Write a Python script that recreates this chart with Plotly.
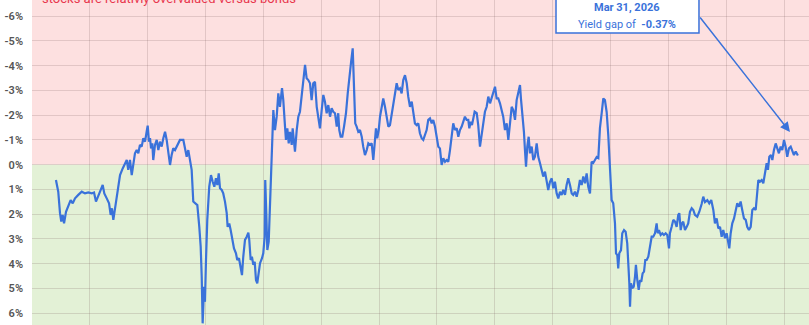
import plotly.graph_objects as go

# ---- data ----
years = [
    1962.07,1962.27,1962.42,1962.53,1962.65,1962.77,1962.94,1963.14,1963.34,1963.52,
    1963.72,1964.00,1964.30,1964.58,1964.87,1965.16,1965.36,1965.53,1965.73,1965.94,
    1966.11,1966.25,1966.46,1966.66,1966.80,1966.91,1967.03,1967.17,1967.32,1967.46,
    1967.61,1967.84,1968.04,1968.19,1968.32,1968.47,1968.62,1968.76,1968.90,1969.05,
    1969.19,1969.33,1969.48,1969.62,1969.77,1969.91,1970.00,1970.11,1970.20,1970.29,
    1970.40,1970.48,1970.63,1970.78,1970.92,1971.06,1971.21,1971.35,1971.50,1971.64,
    1971.78,1971.93,1972.07,1972.21,1972.36,1972.51,1972.79,1973.08,1973.22,1973.37,
    1973.51,1973.66,1973.80,1973.94,1974.09,1974.29,1974.46,1974.58,1974.67,1974.75,
    1974.87,1974.95,1975.04,1975.15,1975.32,1975.47,1975.62,1975.76,1975.90,1976.02,
    1976.14,1976.25,1976.40,1976.53,1976.68,1976.83,1976.91,1977.05,1977.17,1977.31,
    1977.46,1977.63,1977.74,1977.89,1978.04,1978.15,1978.26,1978.41,1978.56,1978.70,
    1978.78,1978.90,1979.01,1979.13,1979.25,1979.36,1979.47,1979.59,1979.71,1979.88,
    1979.99,1980.11,1980.16,1980.25,1980.34,1980.46,1980.57,1980.68,1980.86,1981.00,
    1981.15,1981.29,1981.43,1981.61,1981.72,1981.87,1981.95,1982.07,1982.19,1982.30,
    1982.45,1982.53,1982.65,1982.73,1982.88,1983.02,1983.16,1983.31,1983.45,1983.60,
    1983.74,1983.88,1984.03,1984.17,1984.31,1984.46,1984.61,1984.75,1984.89,1985.04,
    1985.18,1985.32,1985.47,1985.61,1985.76,1985.90,1986.04,1986.19,1986.34,1986.47,
    1986.56,1986.68,1986.82,1986.97,1987.14,1987.29,1987.42,1987.57,1987.72,1987.83,
    1987.94,1988.06,1988.20,1988.35,1988.50,1988.63,1988.78,1988.93,1989.07,1989.21,
    1989.36,1989.50,1989.65,1989.73,1989.84,1989.97,1990.08,1990.22,1990.36,1990.51,
    1990.66,1990.80,1990.94,1991.09,1991.23,1991.37,1991.52,1991.66,1991.81,1991.95,
    1992.09,1992.24,1992.39,1992.52,1992.67,1992.82,1992.96,1993.10,1993.25,1993.39,
    1993.53,1993.68,1993.82,1993.97,1994.11,1994.25,1994.40,1994.55,1994.68,1994.83,
    1994.98,1995.12,1995.26,1995.41,1995.55,1995.70,1995.84,1995.98,1996.13,1996.27,
    1996.41,1996.56,1996.71,1996.85,1996.99,1997.14,1997.28,1997.42,1997.57,1997.71,
    1997.80,1997.92,1998.03,1998.14,1998.26,1998.44,1998.57,1998.72,1998.87,1999.01,
    1999.15,1999.30,1999.44,1999.59,1999.73,1999.87,2000.02,2000.16,2000.30,2000.45,
    2000.60,2000.73,2000.88,2001.03,2001.17,2001.31,2001.46,2001.60,2001.75,2001.89,
    2002.03,2002.18,2002.26,2002.41,2002.52,2002.61,2002.70,2002.81,2002.93,2003.04,
    2003.19,2003.33,2003.47,2003.62,2003.76,2003.91,2004.05,2004.19,2004.34,2004.49,
    2004.62,2004.77,2004.92,2005.06,2005.20,2005.35,2005.49,2005.64,2005.78,2005.92,
    2006.07,2006.21,2006.35,2006.50,2006.65,2006.78,2006.93,2007.08,2007.22,2007.36,
    2007.51,2007.65,2007.80,2007.94,2008.08,2008.23,2008.37,2008.51,2008.66,2008.81,
    2008.95,2009.09,2009.24,2009.38,2009.52,2009.67,2009.81,2009.96,2010.10,2010.24,
    2010.39,2010.48,2010.59,2010.67,2010.76,2010.91,2011.02,2011.17,2011.31,2011.45,
    2011.54,2011.63,2011.69,2011.77,2011.88,2012.01,2012.12,2012.20,2012.32,2012.44,
    2012.55,2012.66,2012.78,2012.90,2013.01,2013.13,2013.27,2013.41,2013.56,2013.70,
    2013.85,2013.99,2014.08,2014.19,2014.34,2014.48,2014.62,2014.77,2014.91,2015.06,
    2015.14,2015.29,2015.43,2015.58,2015.72,2015.86,2015.95,2016.07,2016.18,2016.29,
    2016.44,2016.59,2016.72,2016.87,2017.02,2017.16,2017.30,2017.50,2017.68,2017.88,
    2018.02,2018.17,2018.37,2018.54,2018.71,2018.89,2019.03,2019.18,2019.32,2019.47,
    2019.61,2019.75,2019.90,2020.04,2020.18,2020.27,2020.39,2020.53,2020.68,2020.82,
    2020.96,2021.11,2021.25,2021.39,2021.54,2021.69,2021.82,2021.97,2022.12,2022.26,
    2022.40,2022.55,2022.69,2022.78,2022.92,2023.07,2023.21,2023.35,2023.50,2023.61,
    2023.73,2023.87,2023.99,2024.13,2024.28,2024.42,2024.56,2024.71,2024.85,2025.00,
    2025.14,2025.28,2025.43,2025.58,2025.71,2025.86,2026.01,2026.20,
]

yield_gap = [
    0.62,1.09,1.96,2.30,2.03,2.37,1.90,1.70,1.43,1.56,
    1.36,1.22,1.09,1.16,1.12,1.16,1.12,1.49,1.22,1.02,
    0.82,1.16,1.36,1.56,2.03,1.76,2.23,1.76,1.22,0.82,
    0.42,0.15,-0.06,-0.19,0.21,-0.19,0.42,-0.12,-0.46,-0.59,
    -0.46,-0.80,-0.73,-1.07,-0.93,-1.33,-1.58,-0.93,-1.07,-0.66,
    -0.86,-0.19,-0.80,-1.00,-0.59,-0.93,-0.73,-1.07,-1.33,-1.00,
    -0.53,0.01,-0.39,-0.66,-0.59,-0.73,-1.00,-1.00,-0.73,-0.32,
    -0.59,-0.06,0.21,1.49,1.56,1.63,2.51,3.31,4.53,6.41,
    4.93,5.54,3.85,2.23,0.89,0.42,0.69,0.89,0.55,0.82,
    0.35,0.95,1.02,1.16,1.49,1.96,2.51,2.37,2.64,3.04,
    3.38,3.58,3.85,3.78,4.19,4.46,3.72,3.04,2.91,2.75,
    3.04,3.85,3.72,4.05,3.92,4.66,4.79,4.39,3.98,3.78,
    3.58,2.91,0.62,1.96,3.45,3.11,1.56,0.08,-2.21,-1.40,
    -1.94,-2.88,-2.34,-3.09,-2.61,-1.54,-1.00,-1.47,-0.86,-1.33,
    -0.80,-1.47,-0.86,-0.53,-1.40,-1.94,-2.14,-2.88,-3.49,-4.03,
    -3.49,-3.42,-3.29,-2.61,-3.29,-3.35,-2.34,-1.81,-1.47,-2.21,
    -2.82,-2.55,-2.08,-2.41,-1.94,-2.28,-2.14,-2.08,-1.54,-2.08,
    -1.40,-1.13,-1.13,-1.54,-2.08,-2.88,-3.56,-4.10,-4.70,-3.42,
    -1.67,-1.54,-1.33,-1.40,-1.13,-0.73,-0.39,-0.59,-0.86,-0.80,
    -0.86,-0.19,-1.13,-1.47,-1.07,-1.40,-1.94,-2.34,-2.68,-2.34,
    -1.81,-1.54,-1.60,-2.08,-2.48,-2.88,-3.29,-3.02,-3.09,-2.88,
    -3.42,-3.62,-3.29,-2.75,-2.34,-2.55,-2.08,-1.67,-1.60,-1.67,
    -1.27,-1.07,-1.00,-1.20,-1.40,-1.81,-1.87,-1.67,-1.81,-1.54,
    -1.13,-0.73,-0.66,0.01,-0.26,-0.12,-0.19,-0.12,-0.59,-1.20,
    -1.67,-1.40,-1.47,-1.13,-1.40,-1.54,-1.74,-1.94,-1.81,-1.81,
    -1.47,-1.74,-1.60,-1.94,-2.14,-2.08,-1.60,-0.73,-1.20,-1.67,
    -2.14,-2.34,-2.75,-2.48,-2.68,-2.88,-3.15,-2.68,-2.68,-2.48,
    -2.21,-1.94,-1.40,-1.67,-1.00,-1.81,-2.34,-2.21,-1.81,-2.61,
    -2.88,-3.22,-2.68,-1.94,-1.33,-0.59,0.08,-0.73,-1.13,-0.46,
    -0.73,-0.19,-0.32,-0.86,-0.32,-0.06,0.21,0.48,0.28,0.75,
    1.02,0.69,0.55,0.95,0.69,1.16,1.36,1.09,1.22,1.02,
    1.22,0.82,0.55,0.82,1.16,1.22,1.09,1.29,1.02,0.62,
    0.82,0.48,0.75,0.35,0.89,1.16,-0.12,-0.07,-0.19,-0.31,
    -0.27,-1.48,-2.08,-2.68,-2.61,-2.13,-1.20,0.29,1.43,1.56,
    2.37,3.58,3.65,4.19,3.58,3.45,2.77,2.64,2.71,3.18,
    3.85,4.79,5.74,4.79,4.99,4.93,4.53,4.05,4.66,5.06,
    4.66,4.73,4.39,4.32,3.85,3.85,3.72,3.31,2.91,2.91,
    2.77,2.37,2.77,2.64,2.84,2.77,2.84,2.77,2.84,3.38,
    2.77,2.51,2.23,2.30,2.51,2.03,1.96,2.64,2.37,2.30,
    2.64,2.51,2.37,1.90,1.76,1.83,2.03,2.10,1.90,1.59,
    1.29,1.51,1.43,1.56,1.43,1.83,2.37,2.17,2.57,2.51,
    2.91,2.64,2.97,2.77,3.11,3.38,2.77,2.37,2.17,1.83,
    1.56,1.70,1.49,1.83,2.17,2.23,2.51,2.64,2.51,1.83,
    1.76,1.83,1.16,0.62,0.69,0.62,0.75,0.35,-0.06,0.21,
    -0.32,-0.39,-0.19,-0.59,-0.86,-0.66,-0.46,-0.73,-0.59,-1.00,
    -0.73,-0.32,-0.66,-0.73,-0.53,-0.39,-0.53,-0.37,
]
assert len(years) == len(yield_gap)

y_tick_vals = [-6, -5, -4, -3, -2, -1, 0, 1, 2, 3, 4, 5, 6]
y_tick_text = ["-6%", "-5%", "-4%", "-3%", "-2%", "-1%", "0%", "1%", "2%", "3%", "4%", "5%", "6%"]

zone_note = "stocks are relativly overvalued versus bonds"
last_date_label = "Mar 31, 2026"
last_gap_label = "-0.37%"

# ---- styling ----
BLUE = "#3a72da"
RED_BG = "#fde0e0"
GREEN_BG = "#e3f1d6"
GRID = "rgba(120,90,90,0.20)"
Y_TOP, Y_BOTTOM = -6.655, 6.477
X_START, X_END = 1960, 2027.16

fig = go.Figure()
fig.add_trace(go.Scatter(
    x=years, y=yield_gap, mode="lines",
    line=dict(color=BLUE, width=2.2), hoverinfo="skip", showlegend=False,
))

fig.add_shape(type="rect", xref="paper", x0=0, x1=1, yref="y", y0=Y_TOP, y1=0,
              fillcolor=RED_BG, line_width=0, layer="below")
fig.add_shape(type="rect", xref="paper", x0=0, x1=1, yref="y", y0=0, y1=Y_BOTTOM,
              fillcolor=GREEN_BG, line_width=0, layer="below")

# callout box
fig.add_shape(type="rect", xref="paper", yref="paper",
              x0=0.6744, x1=0.8584, y0=0.8985, y1=1.05,
              fillcolor="white", line=dict(color=BLUE, width=1.5), layer="above")

fig.update_layout(
    width=809, height=325,
    margin=dict(l=32, r=0, t=0, b=0),
    paper_bgcolor="white", plot_bgcolor="white",
    font=dict(family="Roboto"),
    xaxis=dict(range=[X_START, X_END], tick0=1960, dtick=5, showgrid=True,
               gridcolor=GRID, gridwidth=1, showticklabels=False, zeroline=False,
               showline=False, ticks=""),
    yaxis=dict(range=[Y_BOTTOM, Y_TOP], tickvals=y_tick_vals, ticktext=y_tick_text,
               showgrid=True, gridcolor=GRID, gridwidth=1, zeroline=False,
               showline=False, ticks="", ticklabelstandoff=8,
               tickfont=dict(family="Roboto", size=11, color="#555555", weight=600)),
    annotations=[
        dict(text=zone_note, xref="paper", yref="paper", x=0.0103, y=0.974,
             xanchor="left", yanchor="bottom", showarrow=False,
             font=dict(family="Roboto", size=13, color="#e8364d")),
        dict(text="<b>" + last_date_label + "</b>", xref="paper", yref="paper",
             x=0.7664, y=1 - 7.5 / 325, xanchor="center", yanchor="middle", showarrow=False,
             font=dict(family="Roboto", size=11, color=BLUE)),
        dict(text="Yield gap of  <b>" + last_gap_label + "</b>", xref="paper", yref="paper",
             x=0.7664, y=1 - 24 / 325, xanchor="center", yanchor="middle", showarrow=False,
             font=dict(family="Roboto", size=11, color=BLUE)),
        dict(text="", xref="paper", yref="paper", x=0.9755, y=1 - 132 / 325,
             ax=-91, ay=-116, showarrow=True, arrowhead=2, arrowsize=1.3,
             arrowwidth=1.5, arrowcolor=BLUE),
    ],
)

fig.write_html("out.html")
